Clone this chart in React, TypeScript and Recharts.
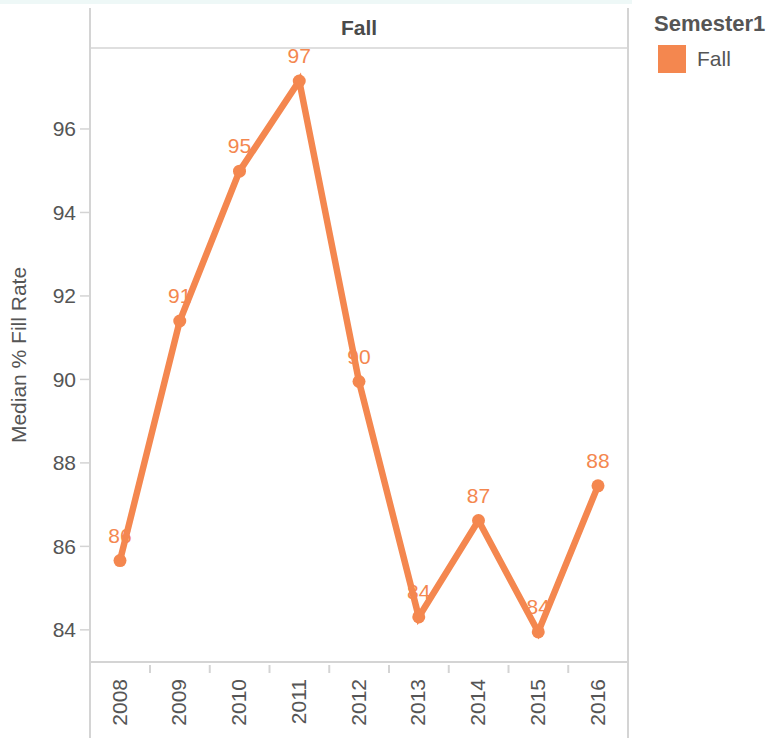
import { LineChart, Line, XAxis, YAxis, LabelList, usePlotArea } from "recharts";

// page has default 8px margin; the chart fills the whole window
if (typeof document !== "undefined") document.body.style.margin = "0";

const years = ["2008", "2009", "2010", "2011", "2012", "2013", "2014", "2015", "2016"];
const fillRate = [85.66, 91.4, 94.99, 97.15, 89.95, 84.31, 86.62, 83.95, 87.45];
const labels = ["86", "91", "95", "97", "90", "84", "87", "84", "88"];
const yTicks = [84, 86, 88, 90, 92, 94, 96];

const ORANGE = "#f4874f";
const GRID = "#d4d4d4";
const TEXT = "#555555";
const FONT = "Arial, 'Liberation Sans', sans-serif";

const data = years.map((y, i) => ({ year: y, fall: fillRate[i], label: labels[i] }));

function XTick(props: any) {
  const { x, y, payload, index } = props;
  return (
    <g>
      {index < years.length - 1 && (
        <line x1={x + 30} x2={x + 30} y1={y - 5} y2={y + 3} stroke={GRID} strokeWidth={2} />
      )}
      <text
        x={x - 1}
        y={y + 9}
        transform={`rotate(-90 ${x - 1} ${y + 9})`}
        textAnchor="end"
        dominantBaseline="central"
        fontSize={21}
        fill={TEXT}
        fontFamily={FONT}
      >
        {payload.value}
      </text>
    </g>
  );
}

// pane borders and the facet header above the plot
function Frame() {
  const area = usePlotArea();
  if (!area) return null;
  const left = area.x;
  const right = area.x + area.width;
  const bottom = area.y + area.height;
  return (
    <g>
      <line x1={left} x2={left} y1={8} y2={738} stroke={GRID} strokeWidth={2} />
      <line x1={right} x2={right} y1={8} y2={738} stroke={GRID} strokeWidth={2} />
      <line x1={left} x2={right} y1={area.y} y2={area.y} stroke={GRID} strokeWidth={1.5} />
      <line x1={left} x2={right} y1={bottom} y2={bottom} stroke={GRID} strokeWidth={2} />
      <text
        x={(left + right) / 2}
        y={area.y - 21}
        textAnchor="middle"
        dominantBaseline="central"
        fontSize={21}
        fontWeight="bold"
        fill="#4a4a4a"
        fontFamily={FONT}
      >
        Fall
      </text>
    </g>
  );
}

function LegendBox() {
  return (
    <div style={{ position: "absolute", left: 654, top: 12, fontFamily: FONT }}>
      <div style={{ fontSize: 22, fontWeight: "bold", color: "#555", lineHeight: "24px" }}>Semester1</div>
      <div style={{ display: "flex", alignItems: "center", marginTop: 9, marginLeft: 4 }}>
        <div style={{ width: 28, height: 28, background: ORANGE }} />
        <span style={{ fontSize: 21, color: TEXT, marginLeft: 11 }}>Fall</span>
      </div>
    </div>
  );
}

export default function App() {
  return (
    <div style={{ position: "relative", width: 776, height: 738, background: "#fff" }}>
      <div style={{ position: "absolute", left: 0, top: 0, width: 632, height: 4, background: "#eef8f7" }} />
      <LineChart width={776} height={738} data={data} margin={{ top: 48, right: 148, bottom: 0, left: 0 }}>
        <XAxis
          dataKey="year"
          height={76}
          axisLine={false}
          tickLine={false}
          interval={0}
          padding={{ left: 30, right: 30 }}
          tick={<XTick />}
        />
        <YAxis
          width={90}
          domain={[83.23, 97.94]}
          ticks={yTicks}
          axisLine={false}
          tickLine={{ stroke: GRID, strokeWidth: 1.5 }}
          tickSize={10}
          tickMargin={4}
          tick={{ fontSize: 21, fill: TEXT, fontFamily: FONT }}
          label={{
            value: "Median % Fill Rate",
            angle: -90,
            position: "insideLeft",
            offset: 19,
            style: { fontSize: 21, fill: TEXT, fontFamily: FONT, textAnchor: "middle" },
          }}
        />
        <Frame />
        <Line
          dataKey="fall"
          name="Fall"
          stroke={ORANGE}
          strokeWidth={6.5}
          dot={{ r: 6.5, fill: ORANGE, stroke: "none" }}
          activeDot={false}
          isAnimationActive={false}
        >
          <LabelList
            dataKey="label"
            position="top"
            offset={18}
            fill={ORANGE}
            fontSize={21}
            fontFamily={FONT}
          />
        </Line>
      </LineChart>
      <LegendBox />
    </div>
  );
}
